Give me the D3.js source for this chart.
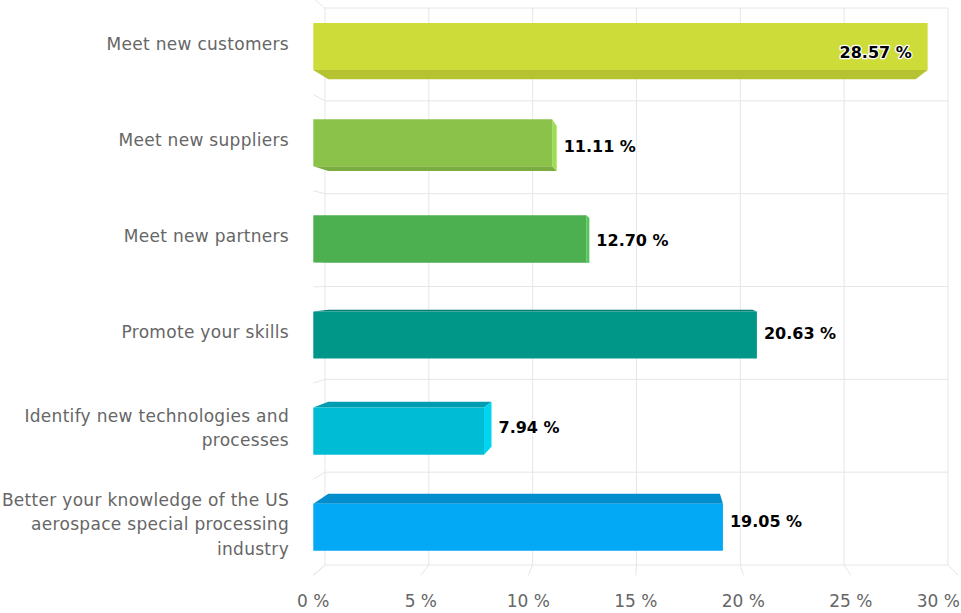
<!DOCTYPE html>
<html><head><meta charset="utf-8">
<script src="https://cdn.jsdelivr.net/npm/d3@7"></script>
<style>body{margin:0;background:#fff} svg{display:block}</style>
</head><body><svg id="c" width="961" height="613"></svg>
<script>
const categories = [
  "Meet new customers",
  "Meet new suppliers",
  "Meet new partners",
  "Promote your skills",
  "Identify new technologies and processes",
  "Better your knowledge of the US aerospace special processing industry"
];
const values = [28.57, 11.11, 12.70, 20.63, 7.94, 19.05];
const barColors = ["#cddc39", "#8bc34a", "#4caf50", "#009688", "#00bcd4", "#03a9f4"];
const tickValues = [0, 5, 10, 15, 20, 25, 30];
const tickLabels = ["0 %", "5 %", "10 %", "15 %", "20 %", "25 %", "30 %"];
const dataLabels = ["28.57 %", "11.11 %", "12.70 %", "20.63 %", "7.94 %", "19.05 %"];

const svg = d3.select("#c");
const x = d3.scaleLinear().domain([0, 30]).range([313.3, 958.4]);
const y = d3.scaleBand().domain(categories).range([-1.5, 575.3]);
const barRatio = 0.49;
const cx = 654, cy = 275.6, sWall = 0.9657, sBar = 0.956, sLabel = 0.975;
const P = (px, py, s) => [cx + (px - cx) * s, cy + (py - cy) * s];
const grid = "#e6e6e6";
const FONT = "'DejaVu Sans', Verdana, sans-serif";

const g = svg.append("g");
const [yTop, yBot] = y.range();
const bounds = categories.map(c => y(c)).concat([yBot]);

// back wall horizontals
bounds.forEach(b => {
  const a = P(x(0), b, sWall), e = P(x(30), b, sWall);
  g.append("line").attr("x1", a[0]).attr("y1", a[1]).attr("x2", e[0]).attr("y2", e[1])
    .attr("stroke", grid).attr("stroke-width", 1);
});
// back wall verticals + floor lines
tickValues.forEach(t => {
  const a = P(x(t), yTop, sWall), e = P(x(t), yBot, sWall);
  g.append("line").attr("x1", a[0]).attr("y1", a[1]).attr("x2", e[0]).attr("y2", e[1])
    .attr("stroke", grid).attr("stroke-width", 1);
  const f = P(x(t), yBot, 1);
  g.append("line").attr("x1", e[0]).attr("y1", e[1]).attr("x2", f[0]).attr("y2", f[1])
    .attr("stroke", grid).attr("stroke-width", 1);
});
// left side wall lines
bounds.forEach(b => {
  const a = P(x(0), b, sWall), e = P(x(0), b, 1);
  g.append("line").attr("x1", a[0]).attr("y1", a[1]).attr("x2", e[0]).attr("y2", e[1])
    .attr("stroke", grid).attr("stroke-width", 1);
});

const poly = (pts, fill) => g.append("path")
  .attr("d", "M" + pts.map(p => p[0].toFixed(2) + "," + p[1].toFixed(2)).join("L") + "Z")
  .attr("fill", fill);

// bars
categories.forEach((c, i) => {
  const bw = y.bandwidth();
  const y0 = y(c) + bw * (1 - barRatio) / 2, y1 = y0 + bw * barRatio;
  const x0 = x(0), x1 = x(values[i]);
  const col = d3.color(barColors[i]);
  if (y0 > cy) poly([P(x0, y0, 1), P(x1, y0, 1), P(x1, y0, sBar), P(x0, y0, sBar)], col.darker(0.5).formatHex());
  if (y1 < cy) poly([P(x0, y1, 1), P(x1, y1, 1), P(x1, y1, sBar), P(x0, y1, sBar)], col.darker(0.35).formatHex());
  if (x1 < cx) poly([P(x1, y0, 1), P(x1, y1, 1), P(x1, y1, sBar), P(x1, y0, sBar)], col.brighter(0.35).formatHex());
  poly([P(x0, y0, 1), P(x1, y0, 1), P(x1, y1, 1), P(x0, y1, 1)], barColors[i]);

  // data label
  const yc = P(x1, (y0 + y1) / 2, sLabel)[1];
  const xEnd = Math.max(x1, P(x1, y0, sBar)[0]);
  const t = g.append("text").text(dataLabels[i])
    .attr("font-family", FONT).attr("font-weight", "bold").attr("font-size", 16)
    .attr("fill", "#000").attr("stroke", "#fff").attr("stroke-width", 2.5)
    .attr("stroke-linejoin", "round").attr("paint-order", "stroke")
    .attr("y", yc).attr("dy", "0.36em");
  const w = t.node().getComputedTextLength();
  if (xEnd + 7 + w > x(30)) {
    t.attr("x", P(x1, y0, sLabel)[0] - 9).attr("text-anchor", "end");
  } else {
    t.attr("x", xEnd + 7).attr("text-anchor", "start");
  }
});

// category labels
const lh = 24.5;
categories.forEach(c => {
  const t = g.append("text").attr("font-family", FONT).attr("font-size", 17)
    .attr("letter-spacing", 0.3).attr("fill", "#666").attr("text-anchor", "end");
  const words = c.split(" ");
  const lines = [];
  let cur = "";
  const probe = g.append("text").attr("font-family", FONT).attr("font-size", 17).attr("letter-spacing", 0.3);
  words.forEach(wd => {
    const test = cur ? cur + " " + wd : wd;
    probe.text(test);
    if (probe.node().getComputedTextLength() > 292 && cur) { lines.push(cur); cur = wd; }
    else cur = test;
  });
  lines.push(cur);
  probe.remove();
  const center = y(c) + y.bandwidth() / 2 - 3;
  lines.forEach((ln, k) => {
    t.append("tspan").attr("x", 289)
      .attr("y", center - (lines.length - 1) * lh / 2 + k * lh)
      .attr("dy", "0.36em").text(ln);
  });
});

// x tick labels
tickValues.forEach((v, i) => {
  const t = g.append("text").text(tickLabels[i]).attr("font-family", FONT).attr("font-size", 17)
    .attr("fill", "#666").attr("text-anchor", "middle").attr("x", x(v)).attr("y", 607);
  const w = t.node().getComputedTextLength();
  if (x(v) + w / 2 > 960) t.attr("x", 960 - w / 2);
});
</script></body></html>
